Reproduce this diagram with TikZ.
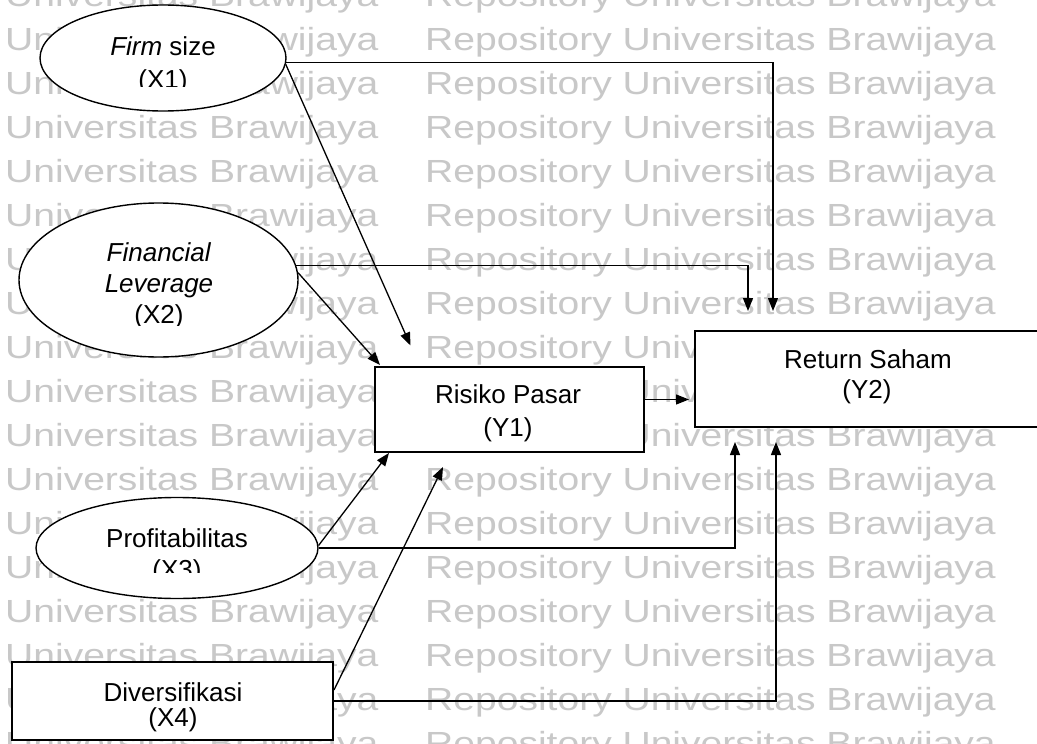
\documentclass[tikz,border=0pt]{standalone}
\usepackage{fontspec}
\setmainfont{Liberation Sans}
\usepackage{graphicx}
\usetikzlibrary{arrows.meta,shapes.geometric}
\definecolor{wmgray}{RGB}{200,200,200}
\tikzset{
  wm/.style={anchor=base west, inner sep=0, text=wmgray, font=\fontsize{32}{44}\selectfont},
  oval/.style={ellipse, draw, fill=white, line width=1.4pt, inner sep=0},
  varbox/.style={rectangle, draw, fill=white, line width=2pt, inner sep=0},
  lbl/.style={anchor=base, inner sep=0, font=\fontsize{26}{31}\selectfont},
  link/.style={line width=1.3pt},
  arr/.style={link, -{Triangle[length=13pt,width=10pt]}},
}
\begin{document}
\begin{tikzpicture}[x=1pt,y=-1pt]
\useasboundingbox (0,0) rectangle (1037,744);
\fill[white] (0,0) rectangle (1037,744);

% repository watermark rows
\foreach \k in {0,...,17} {
  \node[wm] (wl\k) at (5,6+44*\k) {\scalebox{1.22}[1]{Universitas Brawijaya}};
  \node[wm] (wr\k) at (425,6+44*\k) {\scalebox{1.22}[1]{Repository Universitas Brawijaya}};
}

% variables
\node[oval, minimum width=246pt, minimum height=106pt] (x1) at (163,58) {};
\node[oval, minimum width=279pt, minimum height=154pt] (x2) at (158.5,280) {};
\node[oval, minimum width=282pt, minimum height=101pt] (x3) at (177,548) {};
\node[varbox, minimum width=321pt, minimum height=78pt] (x4) at (172.5,701) {};
\node[varbox, minimum width=269pt, minimum height=85pt] (y1) at (509.5,409.5) {};
\node[varbox, minimum width=346pt, minimum height=96pt] (y2) at (868,379) {};

% labels (text frames cut off at their lower edge)
\begin{scope}
  \clip (0,0) rectangle (400,86);
  \node[lbl] (x1a) at (163,56) {\textit{Firm} size};
  \node[lbl] (x1b) at (163,88) {(X1)};
\end{scope}
\begin{scope}
  \clip (0,200) rectangle (400,325);
  \node[lbl] (x2a) at (159,261) {\textit{Financial}};
  \node[lbl] (x2b) at (159,292) {\textit{Leverage}};
  \node[lbl] (x2c) at (159,323) {(X2)};
\end{scope}
\begin{scope}
  \clip (0,490) rectangle (400,572);
  \node[lbl] (x3a) at (177,547) {Profitabilitas};
  \node[lbl] (x3b) at (177,578) {(X3)};
\end{scope}
\node[lbl] (x4a) at (173,701) {Diversifikasi};
\node[lbl] (x4b) at (173,726) {(X4)};
\node[lbl] (y1a) at (508,403) {Risiko Pasar};
\node[lbl] (y1b) at (508,436) {(Y1)};
\node[lbl] (y2a) at (868,368) {Return Saham};
\node[lbl] (y2b) at (867,398) {(Y2)};

% arrow ends left free near the dependent variables
\coordinate (tA) at (748,311);
\coordinate (tB) at (773,311);
\coordinate (bA) at (735,442);
\coordinate (bB) at (776,442);
\coordinate (y1top) at (410.5,345.5);
\coordinate (y1nw) at (380,365);
\coordinate (y1sw) at (389,453);
\coordinate (y1bot) at (443,467);

% paths
\draw[arr] (x1.-2) -| (tB);
\draw[arr] (x1.-3) -- (y1top);
\draw[arr] (x2.6) -| (tA);
\draw[arr] (x2.3) -- (y1nw);
\draw[arr] (x3.1) -- (y1sw);
\draw[arr] (x3.east) -| (bA);
\draw[arr] ([yshift=11pt]x4.east) -- (y1bot);
\draw[arr] (x4.east) -| (bB);
\draw[arr] ([yshift=10pt]y1.east) -- ([yshift=10pt,xshift=-5pt]y1.east -| y2.west);
\end{tikzpicture}
\end{document}
